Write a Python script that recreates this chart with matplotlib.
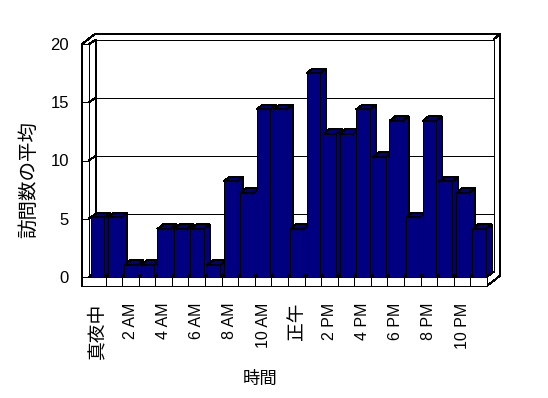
import matplotlib
matplotlib.use("Agg")
import matplotlib.pyplot as plt
from matplotlib.patches import Polygon, Rectangle

plt.rcParams["lines.antialiased"] = False
plt.rcParams["patch.antialiased"] = False

# ---- data ----
hours = list(range(24))
tick_labels = ["真夜中", "2 AM", "4 AM", "6 AM", "8 AM", "10 AM",
               "正午", "2 PM", "4 PM", "6 PM", "8 PM", "10 PM"]
values = [5.1, 5.1, 1.0, 1.0, 4.1, 4.1, 4.1, 1.0, 8.2, 7.2, 14.4, 14.4,
          4.1, 17.5, 12.3, 12.3, 14.4, 10.3, 13.4, 5.1, 13.4, 8.2, 7.2, 4.1]
y_ticks = [0, 5, 10, 15, 20]
y_title = "訪問数の平均"
x_title = "時間"

W, H = 548, 398
fig = plt.figure(figsize=(W / 100, H / 100), dpi=100)
fig.patch.set_facecolor("white")

# front plane in pixels
px_l, px_r = 89.0, 486.9
px_b, px_t = 276.7, 44.3
ax = fig.add_axes([px_l / W, 1 - px_b / H, (px_r - px_l) / W, (px_b - px_t) / H])
ax.set_xlim(0, 24)
ax.set_ylim(0, 20)
ax.set_facecolor("none")
for s in ax.spines.values():
    s.set_visible(False)

sx = (px_r - px_l) / 24.0   # px per x unit
sy = (px_b - px_t) / 20.0   # px per y unit

def dx(p):
    return p / sx

def dy(p):
    return p / sy

LW = 0.72
navy = "#000080"

# wall / floor offsets
wdx, wdy = dx(6.7), dy(4.8)
odx, ody = dx(13.5), dy(10.5)
lw_front = dx(7.3)
fh = dy(9.3)

def poly(pts, fc="white", z=1):
    ax.add_patch(Polygon(pts, closed=True, facecolor=fc, edgecolor="black",
                         linewidth=LW, zorder=z, clip_on=False, antialiased=False))

def line(xs, ys, z=2):
    ax.plot(xs, ys, color="black", linewidth=LW, zorder=z, clip_on=False,
            solid_capstyle="butt", antialiased=False)

# outer silhouette
poly([(-lw_front, -fh), (-lw_front, 20), (-lw_front + odx, 20 + ody),
      (24 + odx, 20 + ody), (24 + odx, -fh + ody), (24, -fh)], z=1)
# back wall inner face
poly([(wdx, wdy), (24 + wdx, wdy), (24 + wdx, 20 + wdy), (wdx, 20 + wdy)], z=1.1)
# left wall inner face
poly([(0, 0), (wdx, wdy), (wdx, 20 + wdy), (0, 20)], z=1.1)
# floor top
poly([(0, 0), (24, 0), (24 + wdx, wdy), (wdx, wdy)], z=1.1)
# floor front face + left wall front face
poly([(-lw_front, -fh), (24, -fh), (24, 0), (0, 0), (0, 20), (-lw_front, 20)], z=1.2)
# back-wall top right connector
line([24 + wdx, 24 + odx], [20 + wdy, 20 + ody])

# gridlines
for v in y_ticks[1:]:
    line([wdx, 24 + wdx], [v + wdy, v + wdy], z=1.3)
for v in y_ticks:
    line([0, wdx], [v, v + wdy], z=1.3)
    line([-lw_front, 0], [v, v], z=1.3)
# floor ticks
for i in range(1, 24):
    line([i, i], [0, -fh], z=1.3)

# bars
off, bw = 0.12, 0.80
bdx, bdy = dx(6.0), dy(4.7)
z = 3
for i, v in zip(hours, values):
    x0 = i + off
    x1 = x0 + bw
    poly([(x1, 0), (x1 + bdx, bdy), (x1 + bdx, v + bdy), (x1, v)], fc=navy, z=z)
    poly([(x0, v), (x1, v), (x1 + bdx, v + bdy), (x0 + bdx, v + bdy)], fc=navy, z=z)
    ax.add_patch(Rectangle((x0, 0), bw, v, facecolor=navy, edgecolor="black",
                           linewidth=LW, zorder=z, clip_on=False, antialiased=False))
    z += 0.01

# ticks and labels
ax.set_yticks(y_ticks)
ax.set_yticklabels([str(v) for v in y_ticks])
ax.set_xticks([h + 0.5 for h in hours[::2]])
ax.set_xticklabels(tick_labels, rotation=90)
ax.tick_params(axis="y", length=0, pad=(px_l - 69) * 0.72)
ax.tick_params(axis="x", length=0, pad=(302.5 - px_b) * 0.72)
for t in ax.get_yticklabels():
    t.set_fontfamily(["Liberation Sans", "DejaVu Sans"])
    t.set_fontsize(12)
for t in ax.get_xticklabels():
    if any(ord(c) > 127 for c in t.get_text()):
        t.set_fontfamily(["Noto Sans CJK JP", "DejaVu Sans"])
        t.set_fontsize(13.5)
    else:
        t.set_fontfamily(["Liberation Sans", "DejaVu Sans"])
        t.set_fontsize(11.5)

fig.text(28.3 / W, 1 - 180 / H, y_title, rotation=90, ha="center", va="center",
         family=["Noto Sans CJK JP", "DejaVu Sans"], fontsize=14)
fig.text(259.7 / W, 1 - 378.5 / H, x_title, ha="center", va="center",
         family=["Noto Sans CJK JP", "DejaVu Sans"], fontsize=12.5)

fig.savefig("out.png", dpi=100, facecolor="white")
